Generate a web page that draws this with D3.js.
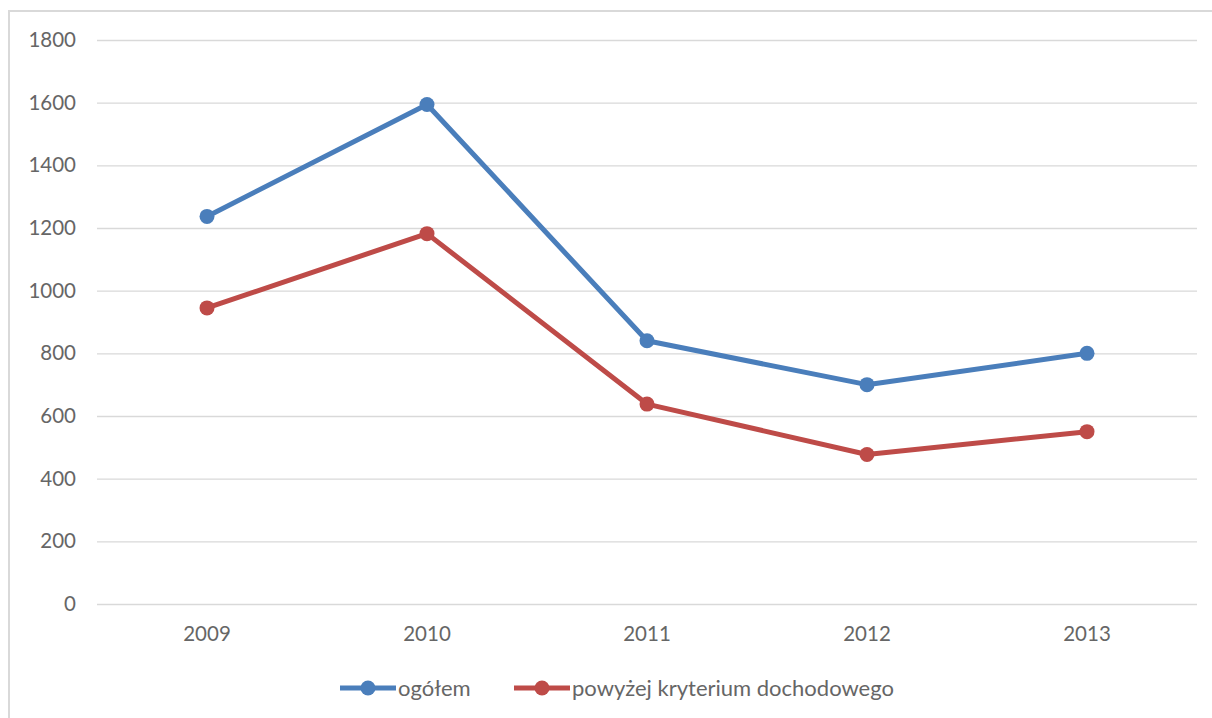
<!DOCTYPE html>
<html>
<head>
<meta charset="utf-8">
<script src="https://cdn.jsdelivr.net/npm/d3@7"></script>
<style>
  body { margin: 0; background: #fff; }
  text { font-family: Lato, 'Open Sans', sans-serif; }
</style>
</head>
<body>
<svg width="1212" height="718"></svg>
<script>
const years = ['2009', '2010', '2011', '2012', '2013']
const ogolem = [1237, 1594, 840, 700, 800]
const powyzej = [945, 1182, 638, 477, 550]
const yTicks = [0, 200, 400, 600, 800, 1000, 1200, 1400, 1600, 1800]
const seriesNames = ['ogółem', 'powyżej kryterium dochodowego']
const colors = ['#4a7ebb', '#be4b48']

const width = 1212
const height = 718
const margin = { top: 40, right: 15, bottom: 114, left: 97 }

const svg = d3.select('svg')

// outer frame of the chart area
svg.append('rect')
  .attr('x', 9).attr('y', 11)
  .attr('width', 1250).attr('height', 760)
  .attr('fill', 'none')
  .attr('stroke', '#d9d9d9')
  .attr('stroke-width', 2)

const xScale = d3.scaleBand()
  .domain(years)
  .range([margin.left, width - margin.right])

const yScale = d3.scaleLinear()
  .domain([0, 1800])
  .range([height - margin.bottom, margin.top])

// gridlines
svg.append('g')
  .attr('transform', `translate(${margin.left},0)`)
  .call(d3.axisLeft(yScale).tickValues(yTicks).tickSize(-(width - margin.left - margin.right)).tickFormat(d => d).tickPadding(21))
  .call(g => g.select('.domain').remove())
  .call(g => g.selectAll('line').attr('stroke', '#d9d9d9').attr('stroke-width', 1.3))
  .call(g => g.selectAll('text').attr('fill', '#666').attr('font-size', 20.5))

svg.append('g')
  .attr('transform', `translate(0,${height - margin.bottom})`)
  .call(d3.axisBottom(xScale).tickSize(0).tickPadding(22))
  .call(g => g.select('.domain').remove())
  .call(g => g.selectAll('text').attr('fill', '#666').attr('font-size', 20.5))

const allSeries = [ogolem, powyzej]

const line = d3.line()
  .x((d, i) => xScale(years[i]) + xScale.bandwidth() / 2)
  .y(d => yScale(d))

allSeries.forEach((values, s) => {
  svg.append('path')
    .datum(values)
    .attr('d', line)
    .attr('fill', 'none')
    .attr('stroke', colors[s])
    .attr('stroke-width', 5)
    .attr('stroke-linejoin', 'round')

  svg.selectAll('.dot' + s)
    .data(values)
    .enter().append('circle')
    .attr('cx', (d, i) => xScale(years[i]) + xScale.bandwidth() / 2)
    .attr('cy', d => yScale(d))
    .attr('r', 7.5)
    .attr('fill', colors[s])
})

// legend
const legendX = [340, 514]
const legendY = 688
seriesNames.forEach((name, s) => {
  const g = svg.append('g').attr('transform', `translate(${legendX[s]},${legendY})`)
  g.append('line')
    .attr('x1', 0).attr('x2', 56)
    .attr('stroke', colors[s]).attr('stroke-width', 5)
  g.append('circle').attr('cx', 28).attr('r', 7.5).attr('fill', colors[s])
  g.append('text')
    .attr('x', 58).attr('dy', '0.35em')
    .attr('fill', '#666').attr('font-size', 22)
    .text(name)
})
</script>
</body>
</html>
